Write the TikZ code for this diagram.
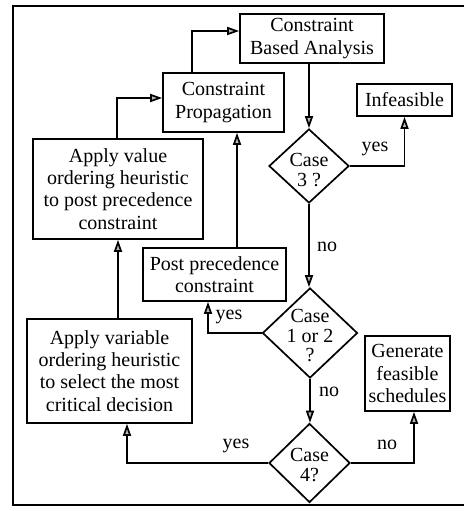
\documentclass[tikz,border=0pt]{standalone}
\usepackage{fontspec}
\setmainfont{Liberation Serif}
\usetikzlibrary{arrows.meta,shapes.geometric,calc}
\tikzset{
  box/.style={draw, line width=1.7pt, rectangle, inner sep=0pt, align=center,
    font=\fontsize{20}{22.3}\selectfont},
  dia/.style={draw, line width=1.7pt, diamond, inner sep=0pt, aspect=1},
  diatext/.style={align=center, inner sep=0pt, font=\fontsize{20}{19.5}\selectfont},
  lbl/.style={inner sep=0pt, font=\fontsize{20}{22}\selectfont},
  conn/.style={line width=1.7pt},
  arr/.style={conn, -{Triangle[length=12pt,width=8pt,fill=gray!55]}},
}
\begin{document}
\begin{tikzpicture}[x=1pt,y=-1pt]
\useasboundingbox (0,0) rectangle (464,511);
% frame
\draw[line width=1.4pt] (464,6) -- (13,6);
\draw[line width=2.4pt] (13,5.3) -- (13,505.7);
\draw[line width=1.4pt] (13,505) -- (464,505);
% boxes
\node[box, minimum width=144, minimum height=49] (cba) at (312,38.5) {Constraint\\Based Analysis};
\node[box, minimum width=95, minimum height=32] (inf) at (404.5,100) {Infeasible};
\node[box, minimum width=121, minimum height=59] (cp) at (223.5,102.5) {Constraint\\Propagation};
\node[box, minimum width=170, minimum height=100] (av) at (118,189) {Apply value\\ordering heuristic\\to post precedence\\constraint};
\node[box, minimum width=143, minimum height=53] (pp) at (214.5,274.5) {Post precedence\\constraint};
\node[box, minimum width=85, minimum height=75] (gen) at (407.5,373.5) {Generate\\feasible\\schedules};
\node[box, minimum width=165, minimum height=104] (avar) at (109.5,371) {Apply variable\\ordering heuristic\\to select the most\\critical decision};
% diamonds
\node[dia, minimum width=80, minimum height=74] (c3) at (309,166) {};
\node[diatext] (c3t) at (309,170) {Case\\3 ?};
\node[dia, minimum width=95, minimum height=90] (c12) at (310,333) {};
\node[diatext] (c12t) at (310,336) {Case\\1 or 2\\?};
\node[dia, minimum width=81, minimum height=79] (c4) at (309.5,463) {};
\node[diatext] (c4t) at (309.5,465) {Case\\4?};
% connectors
\coordinate (cpt) at ($(cp.north west)+(30,0)$);
\draw[arr] (cpt) |- ($(cba.west)+(0,-7.5)$);
\coordinate (avt) at ($(av.north)+(-1,0)$);
\draw[arr] (avt) |- ($(cp.west)+(0,-4.5)$);
\coordinate (avart) at (av.south |- avar.north);
\draw[arr] (avart) -- (av.south);
\coordinate (ppt) at ($(pp.north)+(22.5,0)$);
\draw[arr] (ppt) -- (ppt |- cp.south);
\draw[arr] (c3.north |- cba.south) -- (c3.north);
\draw[arr] (c3.east) -| (inf.south);
\draw[arr] (c3.south) -- (c12.north -| c3.south);
\coordinate (ppb) at ($(pp.south)+(-6.5,0)$);
\draw[arr] (c12.west) -| (ppb);
\draw[arr] (c12.south) -- (c4.north -| c12.south);
\coordinate (avarb) at ($(avar.south)+(17.5,0)$);
\draw[arr] (c4.west) -| (avarb);
\coordinate (genb) at ($(gen.south)+(6.5,0)$);
\draw[arr] (c4.east) -| (genb);
% labels
\node[lbl] (l1) at (375,149) {yes};
\node[lbl] (l2) at (327,247) {no};
\node[lbl] (l3) at (229,317) {yes};
\node[lbl] (l4) at (329,392) {no};
\node[lbl] (l5) at (236,446) {yes};
\node[lbl] (l6) at (387,445) {no};
\end{tikzpicture}
\end{document}
